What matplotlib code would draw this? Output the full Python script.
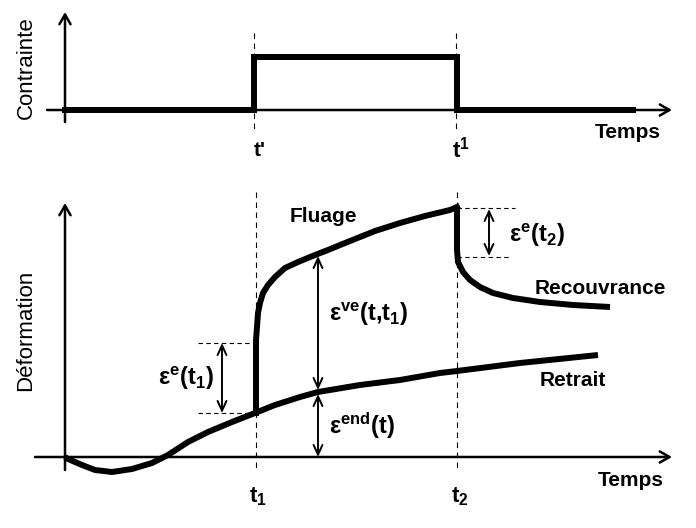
import matplotlib.pyplot as plt
import numpy as np

plt.rcParams['font.family'] = ['Liberation Sans', 'DejaVu Sans']
plt.rcParams['mathtext.fontset'] = 'custom'
plt.rcParams['mathtext.rm'] = 'Liberation Sans:bold'
plt.rcParams['mathtext.it'] = 'Liberation Sans:bold'
plt.rcParams['mathtext.bf'] = 'Liberation Sans:bold'

# values (pixel-like units, y grows downward)
stress_x = [65, 254, 254, 457, 457, 633]
stress_y = [110, 110, 57, 57, 110, 110]

retrait_x = [65, 68, 82, 95, 112, 132, 152, 168, 188, 208, 232, 255, 275, 300, 318,
             360, 400, 440, 457, 520, 598]
retrait_y = [457, 459, 465, 470, 472, 469, 463, 455, 442, 432, 422, 413, 405, 397, 392,
             385, 380, 373, 371, 363, 355]

fluage_x = [256, 256, 257, 258, 260, 263, 268, 275, 285, 298, 315, 328, 345, 375, 400,
            425, 450, 457]
fluage_y = [413, 340, 327, 313, 303, 293, 285, 277, 268, 262, 255, 250, 243, 231, 223,
            216, 210, 207]

recouv_x = [457, 457, 458, 463, 470, 480, 493, 513, 540, 573, 610]
recouv_y = [207, 250, 262, 272, 280, 287, 293, 298, 302, 305, 307]

fig = plt.figure(figsize=(6.96, 5.28), dpi=100)
ax = fig.add_axes([0, 0, 1, 1])
ax.set_xlim(0, 696)
ax.set_ylim(528, 0)
ax.axis('off')

arrow = dict(arrowstyle='->,head_length=0.7,head_width=0.4', lw=1.8, color='black',
             shrinkA=0, shrinkB=0)
dbl = dict(arrowstyle='<->,head_length=0.7,head_width=0.32', lw=1.4, color='black',
           shrinkA=0, shrinkB=0)

# top panel axes
ax.annotate('', xy=(65, 12), xytext=(65, 122), arrowprops=arrow)
ax.annotate('', xy=(672, 110), xytext=(47, 110), arrowprops=arrow)
# bottom panel axes
ax.annotate('', xy=(65, 203), xytext=(65, 470), arrowprops=arrow)
ax.annotate('', xy=(672, 457), xytext=(35, 457), arrowprops=arrow)

# dashed guides
for xv in (254, 456):
    ax.plot([xv, xv], [33, 130], ls=(0, (5, 4)), lw=0.8, color='black')
for xv in (256, 457):
    ax.plot([xv, xv], [192, 470], ls=(0, (5, 4)), lw=0.8, color='black')
ax.plot([198, 256], [343, 343], ls=(0, (4, 3)), lw=0.8, color='black')
ax.plot([198, 256], [413, 413], ls=(0, (4, 3)), lw=0.8, color='black')
ax.plot([457, 515], [208, 208], ls=(0, (4, 3)), lw=0.8, color='black')
ax.plot([457, 510], [257, 257], ls=(0, (4, 3)), lw=0.8, color='black')

# curves
ax.plot(stress_x, stress_y, lw=4.3, color='black', solid_joinstyle='miter')
ax.plot(retrait_x, retrait_y, lw=4.3, color='black', solid_capstyle='butt',
        solid_joinstyle='round')
ax.plot(fluage_x, fluage_y, lw=4.3, color='black', solid_joinstyle='round')
ax.plot(recouv_x, recouv_y, lw=4.3, color='black', solid_joinstyle='round',
        solid_capstyle='butt')

# double arrows
ax.annotate('', xy=(222, 343), xytext=(222, 413), arrowprops=dbl)
ax.annotate('', xy=(318, 256), xytext=(318, 390), arrowprops=dbl)
ax.annotate('', xy=(318, 394), xytext=(318, 457), arrowprops=dbl)
ax.annotate('', xy=(489, 209), xytext=(489, 256), arrowprops=dbl)

# text
fs = 15
ax.text(26, 68, 'Contrainte', rotation=90, ha='center', va='center', fontsize=16)
ax.text(26, 330, 'Déformation', rotation=90, ha='center', va='center', fontsize=16)
ax.text(628, 133, 'Temps', ha='center', va='center', fontsize=fs, fontweight='bold')
ax.text(631, 480, 'Temps', ha='center', va='center', fontsize=fs, fontweight='bold')
ax.text(260, 151, "t'", ha='center', va='center', fontsize=fs, fontweight='bold')
ax.text(461, 150, r"$\mathbf{t^1}$", ha='center', va='center', fontsize=fs + 1)
ax.text(258, 497, r"$\mathbf{t_1}$", ha='center', va='center', fontsize=fs + 1)
ax.text(460, 497, r"$\mathbf{t_2}$", ha='center', va='center', fontsize=fs + 1)
ax.text(290, 217, 'Fluage', ha='left', va='center', fontsize=fs, fontweight='bold')
ax.text(535, 289, 'Recouvrance', ha='left', va='center', fontsize=fs, fontweight='bold')
ax.text(540, 380, 'Retrait', ha='left', va='center', fontsize=fs, fontweight='bold')

efs = 17
ax.text(158, 385, r"$\mathbf{\varepsilon^{e}(t_1)}$", ha='left', va='baseline', fontsize=efs)
ax.text(329, 321, r"$\mathbf{\varepsilon^{ve}(t{,}t_1)}$", ha='left', va='baseline', fontsize=efs)
ax.text(329, 434, r"$\mathbf{\varepsilon^{end}(t)}$", ha='left', va='baseline', fontsize=efs)
ax.text(509, 242, r"$\mathbf{\varepsilon^{e}(t_2)}$", ha='left', va='baseline', fontsize=efs)

fig.savefig('out.png', dpi=100)
